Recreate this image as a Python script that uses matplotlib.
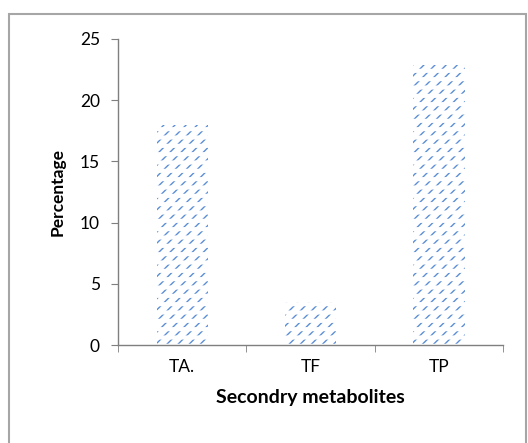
import matplotlib.pyplot as plt
import matplotlib.patches as mpatches

categories = ['TA.', 'TF', 'TP']
values = [18.0, 3.5, 22.9]
yticks = [0, 5, 10, 15, 20, 25]

plt.rcParams['font.family'] = ['Lato', 'DejaVu Sans']
blue = '#5b8ed6'
grey = '#7f7f7f'

fig = plt.figure(figsize=(5.28, 4.43), dpi=100)
ax = fig.add_axes([0.2235, 0.2212, 0.7292, 0.6908])

# hatched bars: blue diagonals, then white horizontal stripes to break them into rows
with plt.rc_context({'hatch.linewidth': 1.0}):
    bars = ax.bar(categories, values, width=0.4, color='none', edgecolor=blue,
                  linewidth=0, hatch='///')
with plt.rc_context({'hatch.linewidth': 3.0}):
    stripes = ax.bar(categories, values, width=0.4, color='none', edgecolor='white',
                     linewidth=0, hatch='--')
for b in bars:
    if hasattr(b, 'set_hatch_linewidth'):
        b.set_hatch_linewidth(1.0)
for b in stripes:
    if hasattr(b, 'set_hatch_linewidth'):
        b.set_hatch_linewidth(3.0)

ax.set_ylim(0, 25)
ax.set_xlim(-0.5, 2.5)
ax.set_yticks(yticks)
ax.set_xticks([-0.5, 0.5, 1.5, 2.5], minor=True)
ax.tick_params(axis='x', which='major', length=0, pad=10, labelsize=12.5)
ax.tick_params(axis='x', which='minor', length=5, color=grey, direction='out')
ax.tick_params(axis='y', length=5, color=grey, direction='out', pad=8, labelsize=12.5)
for s in ['top', 'right']:
    ax.spines[s].set_visible(False)
for s in ['left', 'bottom']:
    ax.spines[s].set_color(grey)
    ax.spines[s].set_linewidth(1.0)

ax.set_ylabel('Percentage', fontsize=12.5, fontweight='bold', labelpad=10)
ax.set_xlabel('Secondry metabolites', fontsize=14, fontweight='bold', labelpad=10)

# chart area border
fig.patches.append(mpatches.Rectangle((9 / 528, -0.05), 517 / 528, 1 - 14 / 443 + 0.05,
                                      transform=fig.transFigure, fill=False,
                                      edgecolor='#a6a6a6', linewidth=1.5))

fig.savefig('out.png', dpi=100)
